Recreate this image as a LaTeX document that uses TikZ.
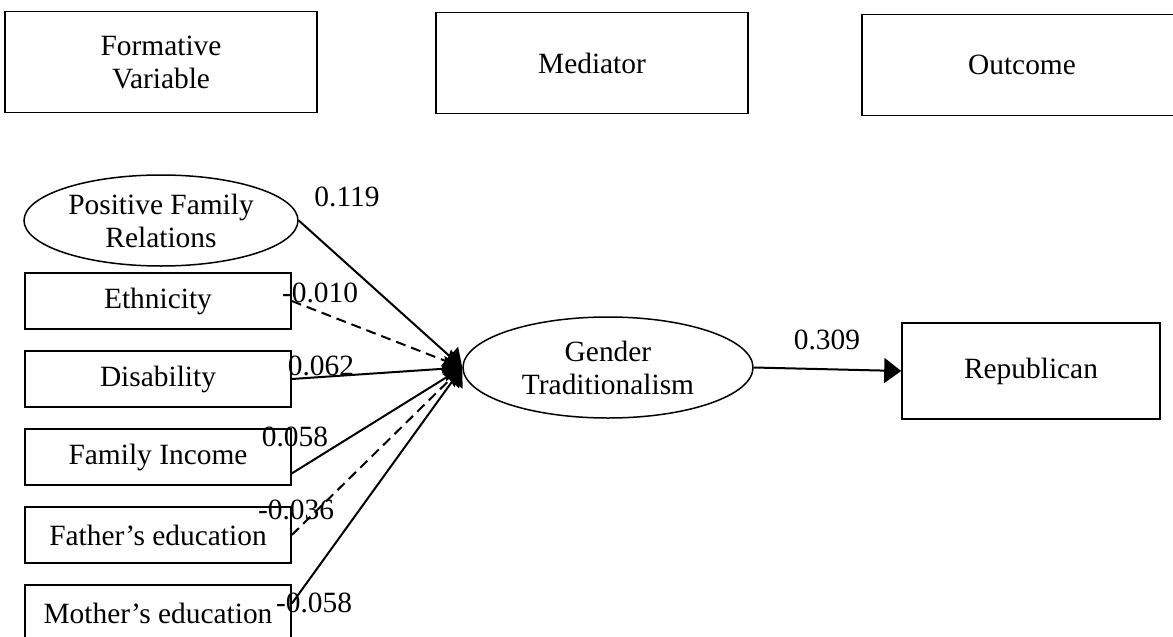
\documentclass[tikz,border=0pt]{standalone}
\usepackage{fontspec}
\setmainfont{Liberation Serif}
\usetikzlibrary{arrows.meta,shapes.geometric}
\tikzstyle{tb}=[rectangle,draw=black,line width=0.75pt,inner sep=0pt,align=center,
  minimum width=156pt,minimum height=50.5pt,font=\fontsize{14.7}{16.5}\selectfont]
\tikzstyle{lb}=[rectangle,draw=black,line width=0.8pt,inner sep=0pt,align=center,
  minimum width=133pt,minimum height=28pt,font=\fontsize{14.7}{16.5}\selectfont]
\tikzstyle{en}=[ellipse,draw=black,line width=0.75pt,inner sep=0pt,align=center,
  font=\fontsize{14.7}{16.5}\selectfont]
\tikzstyle{cf}=[inner sep=0pt,font=\fontsize{14.7}{16.5}\selectfont]
\tikzstyle{pa}=[line width=1pt,-{Triangle[length=8.5pt,width=12.5pt]}]

\begin{document}
\begin{tikzpicture}[x=0.5pt,y=-0.5pt]
        \useasboundingbox (0,0) rectangle (1173,637);
        % headings
        \node[style=tb] (0) at (161,62) {Formative\\Variable};
        \node[style=tb] (1) at (592,63) {Mediator};
        \node[style=tb,minimum width=160pt] (2) at (1022,65) {Outcome};
        % formative variables
        \node[style=en,minimum width=137pt,minimum height=45.5pt] (3) at (161,220.5) {Positive Family\\Relations};
        \node[style=lb] (4) at (158,301) {Ethnicity};
        \node[style=lb] (5) at (158,379) {Disability};
        \node[style=lb] (6) at (158,457) {Family Income};
        \node[style=lb] (7) at (158,535) {Father’s education};
        \node[style=lb] (8) at (158,613) {Mother’s education};
        % mediator and outcome
        \node[style=en,minimum width=145pt,minimum height=50.5pt] (9) at (608,367.5) {Gender\\Traditionalism};
        \node[style=lb,minimum width=129pt,minimum height=48pt] (10) at (1031,371) {Republican};
        % paths
        \draw[style=pa] (3.east) to (9.west);
        \draw[style=pa,dash pattern=on 5pt off 3pt] (4.east) to (9.west);
        \draw[style=pa] (5.east) to (9.west);
        \draw[style=pa] (6.-7) to (9.west);
        \draw[style=pa,dash pattern=on 5pt off 3pt] (7.east) to (9.west);
        \draw[style=pa] (8.4) to (9.west);
        \draw[style=pa] (9.east) to (10.west);
        % coefficients
        \node[style=cf] (11) at (347,197) {0.119};
        \node[style=cf] (12) at (320,293) {-0.010};
        \node[style=cf] (13) at (321,366) {0.062};
        \node[style=cf] (14) at (295,437) {0.058};
        \node[style=cf] (15) at (296,510) {-0.036};
        \node[style=cf] (16) at (314,603) {-0.058};
        \node[style=cf] (17) at (827,340) {0.309};
    \end{tikzpicture}
\end{document}
